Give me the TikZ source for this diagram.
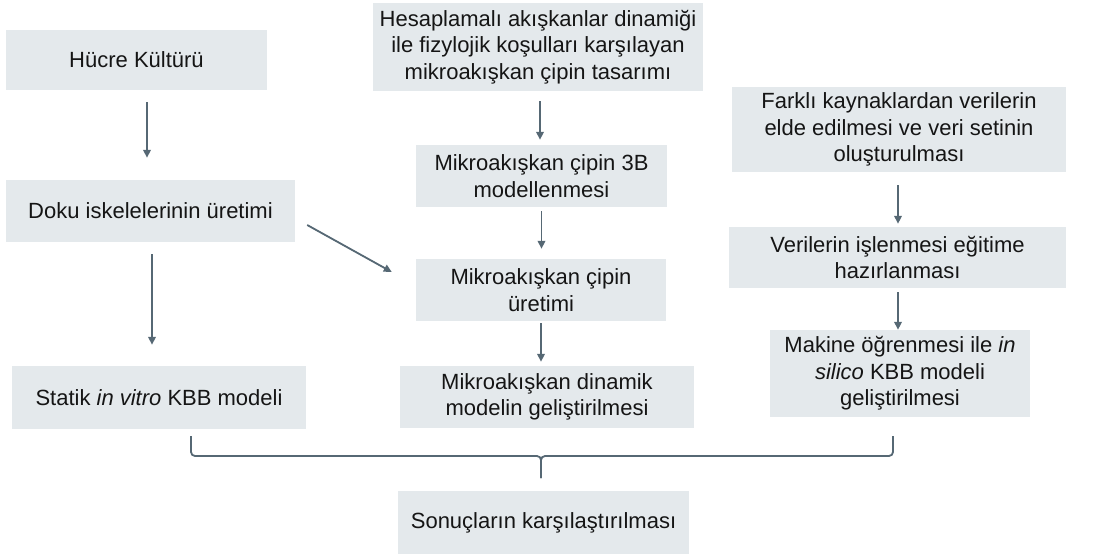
\documentclass[tikz,border=0pt]{standalone}
\usepackage{fontspec}
\setmainfont{Liberation Sans}
\usetikzlibrary{arrows.meta,calc}
\definecolor{boxc}{HTML}{E4E9EC}
\definecolor{arrc}{HTML}{566874}
\definecolor{txtc}{HTML}{151515}
\tikzset{
  box/.style={fill=boxc, inner sep=0pt, align=center, text=txtc,
    font=\fontsize{22}{26.5}\selectfont},
  arr/.style={draw=arrc, line width=1.8pt, -{Triangle[length=8pt,width=7.5pt]}},
  bracec/.style={draw=arrc, line width=1.8pt, rounded corners=4pt}
}
\begin{document}
\begin{tikzpicture}[x=1pt,y=-1pt]
\useasboundingbox (0,0) rectangle (1095,554);
% boxes
\node[box, minimum width=261pt, minimum height=60pt] (hucre) at (136.5,60) {Hücre Kültürü};
\node[box, minimum width=330pt, minimum height=88pt] (hesap) at (538,47) {Hesaplamalı akışkanlar dinamiği\\ile fizylojik koşulları karşılayan\\mikroakışkan çipin tasarımı};
\node[box, minimum width=334pt, minimum height=85pt] (farkli) at (899,129.5) {Farklı kaynaklardan verilerin\\elde edilmesi ve veri setinin\\oluşturulması};
\node[box, minimum width=289pt, minimum height=62pt] (doku) at (150.5,211) {Doku iskelelerinin üretimi};
\node[box, minimum width=251pt, minimum height=62pt] (model) at (541.5,176) {Mikroakışkan çipin 3B\\modellenmesi};
\node[box, minimum width=250pt, minimum height=62pt] (uretim) at (541,290) {Mikroakışkan çipin\\üretimi};
\node[box, minimum width=337pt, minimum height=61pt] (veri) at (897.5,257.5) {Verilerin işlenmesi eğitime\\hazırlanması};
\node[box, minimum width=294pt, minimum height=63pt] (statik) at (159,397.5) {Statik \textit{in vitro} KBB modeli};
\node[box, minimum width=294pt, minimum height=62pt] (dinamik) at (547,397) {Mikroakışkan dinamik\\modelin geliştirilmesi};
\node[box, minimum width=260pt, minimum height=87pt] (makine) at (900,373.5) {Makine öğrenmesi ile \textit{in}\\\textit{silico} KBB modeli\\geliştirilmesi};
\node[box, minimum width=291pt, minimum height=64pt] (sonuc) at (543.5,523) {Sonuçların karşılaştırılması};
% arrows
\draw[arr, shorten <=12pt, shorten >=22pt] ([xshift=10.5pt]hucre.south) -- ([xshift=10.5pt]hucre.south |- doku.north);
\draw[arr, shorten <=12pt, shorten >=21pt] ([xshift=1.5pt]doku.south) -- ([xshift=1.5pt]doku.south |- statik.north);
\draw[arr] ([xshift=12pt,yshift=-14pt]doku.east) -- ([xshift=-24pt,yshift=18pt]uretim.west);
\draw[arr, shorten <=10pt, shorten >=5pt] ([xshift=2pt]hesap.south) -- ([xshift=2pt]hesap.south |- model.north);
\draw[arr, shorten <=4pt, shorten >=10pt] (model.south) -- (model.south |- uretim.north);
\draw[arr, shorten <=2pt, shorten >=4pt] (uretim.south) -- (uretim.south |- dinamik.north);
\draw[arr, shorten <=13pt, shorten >=3pt] ([xshift=-1pt]farkli.south) -- ([xshift=-1pt]farkli.south |- veri.north);
\draw[arr, shorten <=4pt, shorten >=0pt] ([xshift=0.5pt]veri.south) -- ([xshift=0.5pt]veri.south |- makine.north);
% brace
\coordinate (bl) at (191,436);
\coordinate (br) at (893,436);
\coordinate (bm) at (541,478);
\draw[bracec] (bl) -- (bl |- 0,456) -- (bm |- 0,456) -- (bm);
\draw[bracec] (br) -- (br |- 0,456) -- (bm |- 0,456) -- (bm);
\end{tikzpicture}
\end{document}
